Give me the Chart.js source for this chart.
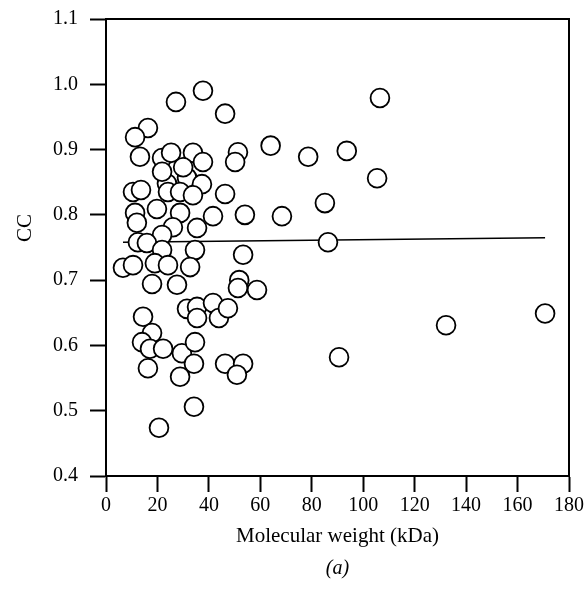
<!DOCTYPE html>
<html><head><meta charset="utf-8">
<script src="https://cdn.jsdelivr.net/npm/chart.js@4.4.0/dist/chart.umd.min.js"></script>
<style>html,body{margin:0;padding:0;background:#fff;}</style>
</head><body>
<canvas id="c" width="584" height="590" style="width:584px;height:590px;display:block"></canvas>
<script>
// Molecular weight (kDa) of each protein
const mwKDa = [31.5,23.7,27.2,37.7,46.3,16.3,11.3,13.2,51.3,50.2,64.0,78.6,93.6,105.4,106.5,85.1,68.4,54.0,86.3,53.3,58.7,51.8,51.3,90.6,132.2,170.7,
  21.8,25.3,33.8,37.7,30.0,21.8,37.3,10.5,13.6,24.1,28.8,33.8,46.3,19.8,11.3,12.0,28.8,41.6,26.0,35.4,21.8,12.4,15.9,21.8,34.6,6.6,10.5,19.0,24.1,32.7,17.9,27.6,31.5,35.4,41.6,35.4,43.9,47.4,14.4,17.9,14.0,17.1,22.2,29.5,34.6,34.2,46.3,53.3,50.9,16.3,28.8,34.2,20.6];
// Correlation coefficient (CC)
const ccValues = [0.857,0.848,0.973,0.990,0.955,0.933,0.919,0.889,0.896,0.881,0.906,0.889,0.898,0.856,0.979,0.818,0.798,0.800,0.758,0.739,0.685,0.700,0.688,0.582,0.631,0.649,
  0.887,0.895,0.895,0.881,0.873,0.866,0.847,0.835,0.838,0.835,0.835,0.830,0.832,0.809,0.803,0.788,0.803,0.798,0.781,0.780,0.769,0.758,0.757,0.746,0.746,0.719,0.723,0.726,0.723,0.720,0.694,0.693,0.656,0.659,0.665,0.642,0.642,0.657,0.644,0.619,0.605,0.595,0.595,0.588,0.605,0.572,0.572,0.572,0.555,0.565,0.552,0.506,0.474];
// Linear fit end points
const fitX = [6.6, 170.7];
const fitY = [0.758, 0.765];
// Axis ticks
const xTicks = [0,20,40,60,80,100,120,140,160,180];
const yTicks = [0.4,0.5,0.6,0.7,0.8,0.9,1.0,1.1];
const xTitle = 'Molecular weight (kDa)';
const yTitle = 'CC';
const panelLabel = '(a)';

const FONT = '"Liberation Serif", "Times New Roman", serif';

const scatterData = mwKDa.map((x, i) => ({x: x, y: ccValues[i]}));
const fitData = fitX.map((x, i) => ({x: x, y: fitY[i]}));

const framePlugin = {
  id: 'frame',
  afterDatasetsDraw(chart) {
    const {ctx, chartArea: a} = chart;
    ctx.save();
    ctx.strokeStyle = '#000';
    ctx.lineWidth = 2;
    ctx.beginPath();
    ctx.moveTo(a.left, a.top);
    ctx.lineTo(a.right, a.top);
    ctx.lineTo(a.right, a.bottom);
    ctx.stroke();
    ctx.restore();
  },
  afterDraw(chart) {
    const {ctx, chartArea: a} = chart;
    ctx.save();
    ctx.fillStyle = '#000';
    ctx.textAlign = 'center';
    ctx.textBaseline = 'middle';
    ctx.font = '21px ' + FONT;
    ctx.translate(25, 228);
    ctx.rotate(-Math.PI / 2);
    ctx.fillText(yTitle, 0, 0);
    ctx.restore();
    ctx.save();
    ctx.fillStyle = '#000';
    ctx.textAlign = 'center';
    ctx.textBaseline = 'middle';
    ctx.font = 'italic 20px ' + FONT;
    ctx.fillText(panelLabel, (a.left + a.right) / 2, 569);
    ctx.restore();
  }
};

new Chart(document.getElementById('c'), {
  data: {
    datasets: [
      {
        type: 'line',
        data: fitData,
        borderColor: '#000',
        borderWidth: 1.5,
        pointRadius: 0,
        fill: false,
        order: 2
      },
      {
        type: 'scatter',
        data: scatterData,
        backgroundColor: '#fff',
        borderColor: '#000',
        borderWidth: 1.8,
        pointRadius: 9.4,
        pointHoverRadius: 9.4,
        order: 1
      }
    ]
  },
  options: {
    responsive: false,
    devicePixelRatio: 1,
    animation: false,
    layout: {padding: {left: 0, right: 15, top: 19, bottom: 0}},
    plugins: {legend: {display: false}, tooltip: {enabled: false}},
    scales: {
      x: {
        type: 'linear',
        min: 0, max: 180,
        afterBuildTicks(s) { s.ticks = xTicks.map(v => ({value: v})); },
        afterFit(s) { s.height = 114; s.paddingLeft = 0; s.paddingRight = 0; },
        border: {display: true, color: '#000', width: 2},
        grid: {display: true, drawOnChartArea: false, drawTicks: true, tickLength: 16, tickWidth: 2, tickColor: '#000'},
        ticks: {color: '#000', font: {family: FONT, size: 20}, padding: 2, maxRotation: 0,
          callback: v => String(v)},
        title: {display: true, text: xTitle, color: '#000', font: {family: FONT, size: 21}, padding: {top: 0, bottom: 41}}
      },
      y: {
        type: 'linear',
        min: 0.4, max: 1.1,
        afterBuildTicks(s) { s.ticks = yTicks.map(v => ({value: v})); },
        afterFit(s) { s.width = 106; s.paddingTop = 0; s.paddingBottom = 0; },
        border: {display: true, color: '#000', width: 2},
        grid: {display: true, drawOnChartArea: false, drawTicks: true, tickLength: 16, tickWidth: 2, tickColor: '#000'},
        ticks: {color: '#000', font: {family: FONT, size: 20}, padding: 12,
          callback: v => Number(v).toFixed(1)},
        title: {display: false}
      }
    }
  },
  plugins: [framePlugin]
});
</script>
</body></html>
